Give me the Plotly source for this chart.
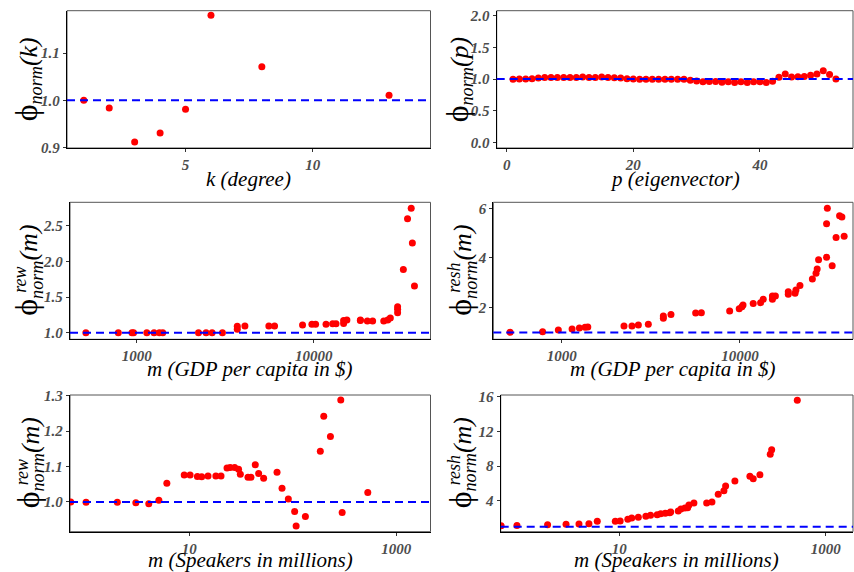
import plotly.graph_objects as go

# ---------------- data ----------------
k_vals = [1, 2, 3, 4, 5, 6, 8, 13]
phi_k = [1.000, 0.984, 0.912, 0.931, 0.981, 1.180, 1.071, 1.011]

p_vals = [1, 2, 3, 4, 5, 6, 7, 8, 9, 10, 11, 12, 13, 14, 15, 16, 17, 18, 19, 20,
          21, 22, 23, 24, 25, 26, 27, 28, 29, 30, 31, 32, 33, 34, 35, 36, 37, 38, 39, 40,
          41, 42, 43, 44, 45, 46, 47, 48, 49, 50, 51, 52]
phi_p = [0.995, 1.0, 1.0, 1.005, 1.015, 1.025, 1.025, 1.025, 1.025, 1.025,
         1.025, 1.03, 1.025, 1.025, 1.03, 1.025, 1.02, 1.015, 1.005, 1.0,
         0.995, 0.995, 0.995, 0.995, 0.995, 0.995, 0.995, 0.995, 0.98, 0.97,
         0.955, 0.96, 0.96, 0.95, 0.955, 0.945, 0.955, 0.945, 0.955, 0.955,
         0.945, 0.965, 1.026, 1.08, 1.03, 1.035, 1.04, 1.058, 1.08, 1.13,
         1.07, 1.0]

gdp_rew_x = [516, 787, 940, 960, 1140, 1253, 1343, 1403, 2234, 2466, 2667, 3050,
             3700, 3700, 4086, 5580, 6010, 8650, 9770, 10250, 11740, 12800, 13370,
             14760, 14760, 15400, 18360, 18360, 20100, 21530, 24880, 26200, 27100,
             29800, 29800, 29800, 32100, 33900, 35560, 36100, 37100]
gdp_rew_y = [1.0, 1.0, 1.0, 1.0, 1.0, 1.0, 1.0, 1.0, 1.0, 1.0, 1.0, 1.0,
             1.09, 1.05, 1.094, 1.094, 1.094, 1.108, 1.12, 1.12, 1.117, 1.126, 1.126,
             1.13, 1.17, 1.18, 1.18, 1.17, 1.164, 1.164, 1.164, 1.178, 1.206,
             1.365, 1.33, 1.28, 1.89, 2.60, 2.75, 2.26, 1.655]

gdp_resh_x = [513, 781, 957, 1143, 1256, 1352, 1400, 2235, 2477, 2690, 3060,
              3715, 3715, 4100, 5640, 6070, 8750, 9900, 10250, 10400, 11860, 13050,
              13500, 15200, 15200, 15800, 18660, 18660, 20370, 20600, 21700, 25470,
              26700, 27100, 27600, 30600, 30900, 30600, 32900, 34600, 36200, 37300, 38400]
gdp_resh_y = [1.007, 1.03, 1.10, 1.14, 1.18, 1.21, 1.22, 1.26, 1.26, 1.30, 1.33,
              1.57, 1.66, 1.72, 1.79, 1.80, 1.87, 1.96, 2.04, 2.11, 2.17, 2.20,
              2.34, 2.34, 2.47, 2.47, 2.54, 2.64, 2.58, 2.71, 2.89, 3.15,
              3.38, 3.56, 3.93, 5.38, 6.0, 4.03, 3.69, 4.82, 5.70, 5.65, 4.87]

spk_rew_x = [0.716, 1.007, 2.02, 3.05, 4.07, 5.09, 6.08, 8.95, 10.2, 12.0, 13.2, 15.2,
             18.1, 20.3, 23.2, 24.9, 27.5, 30.0, 31.2, 37.0, 39.5, 43.5, 46.9, 52.4,
             70.6, 78.9, 90.8, 104.5, 108, 132.7, 185, 199.7, 231.7, 291.6, 300.8, 532]
spk_rew_y = [1.0, 0.999, 0.999, 0.998, 0.995, 1.005, 1.053, 1.076, 1.076, 1.072, 1.071, 1.073,
             1.073, 1.073, 1.096, 1.097, 1.097, 1.092, 1.078, 1.07, 1.07, 1.105, 1.08, 1.067,
             1.084, 1.039, 1.008, 0.973, 0.932, 0.959, 1.143, 1.242, 1.185, 1.288, 0.97, 1.027]

spk_resh_x = [0.716, 1.02, 2.02, 3.05, 4.07, 5.08, 6.12, 9.15, 10.2, 12.1, 13.2, 15.3,
              18.1, 20.1, 23.3, 25.2, 27.9, 30.8, 31.5, 37.3, 39.6, 43.3, 46.0, 47.3,
              52.9, 70.3, 79.1, 91.0, 103.3, 107.3, 132, 184.5, 198.7, 230.7, 290.5, 299.8, 531]
spk_resh_y = [1.115, 1.15, 1.23, 1.27, 1.31, 1.35, 1.62, 1.62, 1.65, 1.85, 2.0, 2.08,
              2.19, 2.31, 2.38, 2.5, 2.54, 2.62, 2.69, 2.81, 3.04, 3.15, 3.19, 3.5,
              3.73, 3.73, 3.85, 4.73, 5.15, 5.69, 6.27, 6.81, 6.54, 7.0, 9.35, 9.88, 15.6]

ref_level = 1.0

ticks_k = [5, 10]
ticks_p = [0, 20, 40]
ticks_gdp = [1000, 10000]
ticks_spk = [10, 1000]
yticks_k = [0.9, 1.0, 1.1]
yticks_p = [0.0, 0.5, 1.0, 1.5, 2.0]
yticks_gdp_rew = [1.0, 1.5, 2.0, 2.5]
yticks_gdp_resh = [2, 4, 6]
yticks_spk_rew = [1.0, 1.1, 1.2, 1.3]
yticks_spk_resh = [4, 8, 12, 16]

# ---------------- layout helpers ----------------
W, H = 854, 572
FONT = "Liberation Serif"

def fx(px):
    return px / W

def fy(py):
    return 1 - py / H

panels = [
    dict(x=k_vals, y=phi_k, box=(67, 430.5, 10.7, 148), xtype="linear", xr=[0.34, 14.63], yr=[0.8993, 1.1896],
         xt=ticks_k, xtt=[str(v) for v in ticks_k], yt=yticks_k, ytt=["%.1f" % v for v in yticks_k],
         xtitle="k (degree)", yvar="k", sup=None, tx=27, tdy=31),
    dict(x=p_vals, y=phi_p, box=(496.7, 853, 10.7, 148), xtype="linear", xr=[-1.58, 54.7], yr=[-0.09, 2.079],
         xt=ticks_p, xtt=[str(v) for v in ticks_p], yt=yticks_p, ytt=["%.1f" % v for v in yticks_p],
         xtitle="p (eigenvector)", yvar="p", sup=None, tx=458, tdy=31),
    dict(x=gdp_rew_x, y=gdp_rew_y, box=(70, 430.5, 202.3, 339.3), xtype="log", xr=[2.623, 4.660], yr=[0.907, 2.833],
         xt=ticks_gdp, xtt=[str(v) for v in ticks_gdp], yt=yticks_gdp_rew, ytt=["%.1f" % v for v in yticks_gdp_rew],
         xtitle="m (GDP per capita in $)", yvar="m", sup="rew", tx=27, tdy=30),
    dict(x=gdp_resh_x, y=gdp_resh_y, box=(493.3, 853, 202.3, 339.3), xtype="log", xr=[2.616, 4.634], yr=[0.727, 6.24],
         xt=ticks_gdp, xtt=[str(v) for v in ticks_gdp], yt=yticks_gdp_resh, ytt=[str(v) for v in yticks_gdp_resh],
         xtitle="m (GDP per capita in $)", yvar="m", sup="resh", tx=461, tdy=30),
    dict(x=spk_rew_x, y=spk_rew_y, box=(70, 430.5, 395, 531.7), xtype="log", xr=[-0.152, 3.332], yr=[0.916, 1.302],
         xt=ticks_spk, xtt=[str(v) for v in ticks_spk], yt=yticks_spk_rew, ytt=["%.1f" % v for v in yticks_spk_rew],
         xtitle="m (Speakers in millions)", yvar="m", sup="rew", tx=29, tdy=28.5),
    dict(x=spk_resh_x, y=spk_resh_y, box=(500.7, 853, 395, 531.7), xtype="log", xr=[-0.149, 3.265], yr=[0.42, 16.2],
         xt=ticks_spk, xtt=[str(v) for v in ticks_spk], yt=yticks_spk_resh, ytt=[str(v) for v in yticks_spk_resh],
         xtitle="m (Speakers in millions)", yvar="m", sup="resh", tx=461, tdy=28.5),
]

fig = go.Figure()
shapes = []
annotations = []
tickfont = dict(family=FONT, size=15, color="#4D4D4D", weight="bold", style="italic")

for i, pn in enumerate(panels, start=1):
    xa = "xaxis" if i == 1 else "xaxis%d" % i
    ya = "yaxis" if i == 1 else "yaxis%d" % i
    xr_ = "x" if i == 1 else "x%d" % i
    yr_ = "y" if i == 1 else "y%d" % i
    l, r, t, b = pn["box"]

    fig.add_trace(go.Scatter(x=pn["x"], y=pn["y"], mode="markers", xaxis=xr_, yaxis=yr_,
                             marker=dict(color="#FF0000", size=7, line=dict(width=0)),
                             showlegend=False))

    common = dict(showgrid=False, zeroline=False, showline=True, linecolor="#000000", linewidth=1.3,
                  ticks="outside", ticklen=3, tickwidth=1, tickcolor="#333333", tickfont=tickfont,
                  mirror=False, automargin=False)
    fig.update_layout(**{
        xa: dict(domain=[fx(l), fx(r)], type=pn["xtype"], range=pn["xr"], anchor=yr_,
                 tickvals=pn["xt"], ticktext=pn["xtt"], **common),
        ya: dict(domain=[fy(b), fy(t)], range=pn["yr"], anchor=xr_,
                 tickvals=pn["yt"], ticktext=pn["ytt"], **common),
    })

    shapes.append(dict(type="rect", xref="%s domain" % xr_, yref="%s domain" % yr_,
                       x0=0, x1=1, y0=0, y1=1, line=dict(color="#555555", width=1), layer="below"))
    shapes.append(dict(type="line", xref="%s domain" % xr_, yref=yr_, x0=0, x1=1,
                       y0=ref_level, y1=ref_level, line=dict(color="#0000FF", width=2, dash="8px,5px"),
                       layer="above"))

    annotations.append(dict(text=pn["xtitle"], xref="paper", yref="paper",
                            x=fx((l + r) / 2), y=fy(b + pn["tdy"]), xanchor="center", yanchor="middle",
                            showarrow=False, font=dict(family=FONT, size=21, color="#000000", style="italic")))
    yc = (t + b) / 2
    ytxt = ("<span style='font-size:32px'>ϕ</span><sub><i>norm</i></sub><i>(%s)</i>" % pn["yvar"])
    annotations.append(dict(text=ytxt, xref="paper", yref="paper", x=fx(pn["tx"]), y=fy(yc),
                            xanchor="center", yanchor="middle", textangle=-90, showarrow=False,
                            font=dict(family=FONT, size=26, color="#000000")))
    if pn["sup"]:
        annotations.append(dict(text="<i>%s</i>" % pn["sup"], xref="paper", yref="paper",
                                x=fx(pn["tx"] - 7), y=fy(yc + 24), xanchor="center", yanchor="bottom",
                                textangle=-90, showarrow=False,
                                font=dict(family=FONT, size=18, color="#000000")))

fig.update_layout(width=W, height=H, margin=dict(l=0, r=0, t=0, b=0, autoexpand=False),
                  paper_bgcolor="white", plot_bgcolor="white",
                  shapes=shapes, annotations=annotations)

fig.write_html("out.html", config={"displayModeBar": False},
               post_script="document.body.style.margin='0';document.body.style.overflow='hidden';")
